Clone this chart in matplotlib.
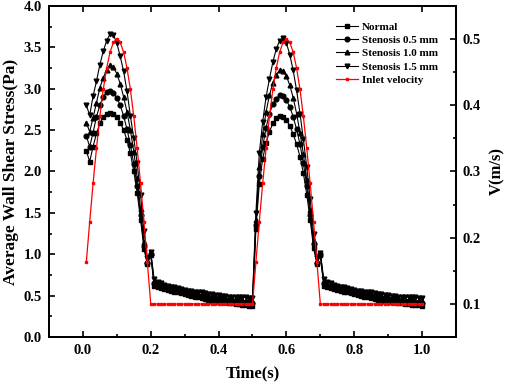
#!/bin/env python3

from matplotlib import pyplot as plt
from matplotlib.ticker import MultipleLocator
import numpy as np

# time steps 0.01 .. 1.00 s
time = np.round(np.arange(1, 101) * 0.01, 2)

wss_normal = [
    2.25, 2.12, 2.30, 2.46, 2.58, 2.66, 2.70, 2.71, 2.70, 2.66,
    2.59, 2.50, 2.38, 2.22, 2.00, 1.74, 1.42, 1.07, 0.88, 0.99,
    0.62, 0.60, 0.59, 0.58, 0.57, 0.56, 0.55, 0.54, 0.53, 0.52,
    0.51, 0.50, 0.49, 0.48, 0.47, 0.46, 0.45, 0.44, 0.44, 0.43,
    0.42, 0.42, 0.41, 0.41, 0.40, 0.40, 0.39, 0.39, 0.38, 0.38,
    1.30, 1.85, 2.15, 2.35, 2.48, 2.58, 2.64, 2.67, 2.66, 2.62,
    2.55, 2.45, 2.33, 2.18, 1.98, 1.72, 1.42, 1.08, 0.88, 0.99,
    0.62, 0.60, 0.59, 0.58, 0.57, 0.56, 0.55, 0.54, 0.53, 0.52,
    0.51, 0.50, 0.49, 0.48, 0.47, 0.46, 0.45, 0.44, 0.44, 0.43,
    0.42, 0.42, 0.41, 0.41, 0.40, 0.40, 0.39, 0.39, 0.39, 0.38,
]
wss_s05 = [
    2.43, 2.30, 2.47, 2.66, 2.80, 2.90, 2.96, 2.97, 2.95, 2.89,
    2.80, 2.67, 2.51, 2.32, 2.09, 1.82, 1.47, 1.10, 0.89, 1.00,
    0.65, 0.62, 0.61, 0.60, 0.59, 0.58, 0.57, 0.56, 0.55, 0.54,
    0.53, 0.52, 0.51, 0.50, 0.50, 0.49, 0.48, 0.47, 0.47, 0.46,
    0.45, 0.45, 0.44, 0.44, 0.43, 0.43, 0.42, 0.42, 0.41, 0.41,
    1.35, 1.95, 2.30, 2.53, 2.70, 2.81, 2.88, 2.92, 2.91, 2.86,
    2.78, 2.66, 2.51, 2.33, 2.10, 1.82, 1.48, 1.12, 0.90, 1.00,
    0.65, 0.62, 0.61, 0.60, 0.59, 0.58, 0.57, 0.56, 0.55, 0.54,
    0.53, 0.52, 0.51, 0.50, 0.50, 0.49, 0.48, 0.47, 0.47, 0.46,
    0.45, 0.45, 0.44, 0.44, 0.43, 0.43, 0.42, 0.42, 0.41, 0.41,
]
wss_s10 = [
    2.59, 2.48, 2.65, 2.83, 3.01, 3.13, 3.23, 3.28, 3.26, 3.18,
    3.06, 2.90, 2.72, 2.50, 2.24, 1.92, 1.55, 1.15, 0.92, 1.02,
    0.67, 0.64, 0.63, 0.62, 0.61, 0.60, 0.59, 0.58, 0.57, 0.56,
    0.55, 0.54, 0.53, 0.52, 0.52, 0.51, 0.50, 0.49, 0.49, 0.48,
    0.48, 0.47, 0.47, 0.46, 0.46, 0.45, 0.45, 0.44, 0.44, 0.44,
    1.42, 2.05, 2.45, 2.72, 2.92, 3.07, 3.17, 3.22, 3.21, 3.15,
    3.04, 2.89, 2.70, 2.47, 2.21, 1.90, 1.54, 1.16, 0.92, 1.01,
    0.67, 0.64, 0.63, 0.62, 0.61, 0.60, 0.59, 0.58, 0.57, 0.56,
    0.55, 0.54, 0.53, 0.52, 0.52, 0.51, 0.50, 0.49, 0.49, 0.48,
    0.48, 0.47, 0.47, 0.46, 0.46, 0.45, 0.45, 0.44, 0.44, 0.44,
]
wss_s15 = [
    2.80, 2.68, 2.91, 3.09, 3.29, 3.45, 3.58, 3.66, 3.65, 3.55,
    3.39, 3.21, 2.97, 2.67, 2.40, 2.10, 1.72, 1.28, 0.96, 1.03,
    0.70, 0.67, 0.65, 0.63, 0.62, 0.61, 0.60, 0.59, 0.58, 0.57,
    0.56, 0.56, 0.55, 0.54, 0.54, 0.53, 0.52, 0.52, 0.51, 0.51,
    0.50, 0.50, 0.49, 0.49, 0.49, 0.48, 0.48, 0.48, 0.47, 0.47,
    1.50, 2.22, 2.60, 2.90, 3.12, 3.32, 3.48, 3.58, 3.61, 3.55,
    3.41, 3.22, 2.98, 2.70, 2.39, 2.05, 1.67, 1.25, 0.95, 1.02,
    0.70, 0.67, 0.65, 0.63, 0.62, 0.61, 0.60, 0.59, 0.58, 0.57,
    0.56, 0.56, 0.55, 0.54, 0.54, 0.53, 0.52, 0.52, 0.51, 0.51,
    0.50, 0.50, 0.49, 0.49, 0.49, 0.48, 0.48, 0.48, 0.47, 0.47,
]
inlet_velocity = [
    0.163, 0.224, 0.282, 0.335, 0.383, 0.424, 0.456, 0.480, 0.495, 0.500,
    0.495, 0.480, 0.456, 0.424, 0.383, 0.335, 0.282, 0.224, 0.163, 0.100,
    0.100, 0.100, 0.100, 0.100, 0.100, 0.100, 0.100, 0.100, 0.100, 0.100,
    0.100, 0.100, 0.100, 0.100, 0.100, 0.100, 0.100, 0.100, 0.100, 0.100,
    0.100, 0.100, 0.100, 0.100, 0.100, 0.100, 0.100, 0.100, 0.100, 0.100,
    0.163, 0.224, 0.282, 0.335, 0.383, 0.424, 0.456, 0.480, 0.495, 0.500,
    0.495, 0.480, 0.456, 0.424, 0.383, 0.335, 0.282, 0.224, 0.163, 0.100,
    0.100, 0.100, 0.100, 0.100, 0.100, 0.100, 0.100, 0.100, 0.100, 0.100,
    0.100, 0.100, 0.100, 0.100, 0.100, 0.100, 0.100, 0.100, 0.100, 0.100,
    0.100, 0.100, 0.100, 0.100, 0.100, 0.100, 0.100, 0.100, 0.100, 0.100,
]

series = [
    ("Normal", wss_normal, "s"),
    ("Stenosis 0.5 mm", wss_s05, "o"),
    ("Stenosis 1.0 mm", wss_s10, "^"),
    ("Stenosis 1.5 mm", wss_s15, "v"),
]

plt.rcParams['font.family'] = ['Liberation Serif', 'DejaVu Serif']
plt.rcParams['font.weight'] = 'bold'


def style_axis(ax):
    for spine in ax.spines.values():
        spine.set_linewidth(1.4)
    ax.tick_params(which='both', direction='in', width=1.2, labelsize=10.5, pad=5)
    ax.tick_params(which='major', length=4)
    ax.tick_params(which='minor', length=2.5)


def main():
    fig = plt.figure(figsize=(5.05, 3.88), dpi=100)
    ax = fig.add_axes([0.097, 0.131, 0.806, 0.854])
    ax2 = ax.twinx()

    handles = []
    for label, values, marker in series:
        h, = ax.plot(time, values, color='black', lw=0.8, marker=marker,
                     ms=3.4, label=label)
        handles.append(h)
    h, = ax2.plot(time, inlet_velocity, color='red', lw=0.9, marker='s',
                  ms=1.6, label='Inlet velocity')
    handles.append(h)

    ax.set_xlim(-0.1, 1.1)
    ax.set_ylim(0, 4.0)
    ax2.set_ylim(0.05, 0.55)
    ax.xaxis.set_major_locator(MultipleLocator(0.2))
    ax.xaxis.set_minor_locator(MultipleLocator(0.1))
    ax.yaxis.set_major_locator(MultipleLocator(0.5))
    ax.yaxis.set_minor_locator(MultipleLocator(0.25))
    ax2.yaxis.set_major_locator(MultipleLocator(0.1))
    ax2.yaxis.set_minor_locator(MultipleLocator(0.05))
    ax.xaxis.set_major_formatter('{x:.1f}')
    ax.yaxis.set_major_formatter('{x:.1f}')
    ax2.yaxis.set_major_formatter('{x:.1f}')
    ax.tick_params(axis='x', top=True)
    style_axis(ax)
    style_axis(ax2)

    ax.set_xlabel('Time(s)', fontsize=12, fontweight='bold', labelpad=6)
    ax.set_ylabel('Average Wall Shear Stress(Pa)', fontsize=12.5,
                  fontweight='bold', labelpad=3)
    ax2.set_ylabel('V(m/s)', fontsize=12, fontweight='bold', labelpad=6)

    ax.legend(handles=handles, loc='upper right', bbox_to_anchor=(0.975, 0.975),
              frameon=False, fontsize=8, handlelength=2.0, handletextpad=0.35,
              labelspacing=0.32, borderaxespad=0.3)

    fig.savefig('out.png', dpi=100)


if __name__ == "__main__":
    main()
